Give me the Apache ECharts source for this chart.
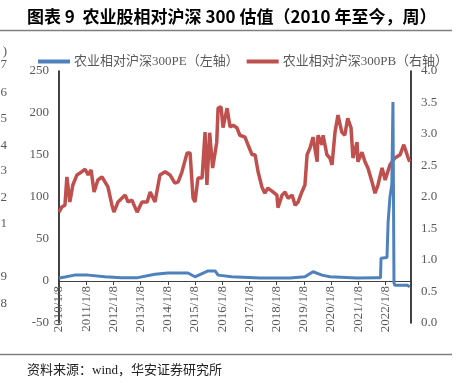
<!DOCTYPE html>
<html><head><meta charset="utf-8">
<script src="https://cdn.jsdelivr.net/npm/echarts@6/dist/echarts.min.js"></script>
<style>html,body{margin:0;padding:0;background:#fff}#c{width:466px;height:383px}</style>
</head><body><div id="c"></div>
<script>
const titleText = '图表 9  农业股相对沪深 300 估值（2010 年至今，周）';
const sourceText = '资料来源：wind，华安证券研究所';
const seriesNames = ['农业相对沪深300PE（左轴）', '农业相对沪深300PB（右轴）'];
const xStartYear = 2010;

const peDates = ['2010-01-08','2010-03-29','2010-08-04','2011-02-03','2011-09-17','2012-04-24','2012-11-30','2013-07-20','2014-01-08','2014-10-05','2015-01-08','2015-07-02','2015-10-05','2015-11-14','2016-05-16','2017-05-30','2018-07-06','2019-01-23','2019-05-12','2019-06-06','2019-09-09','2019-12-24','2020-12-24','2021-09-16','2021-11-03','2021-11-10','2022-01-29','2022-02-13','2022-03-10','2022-04-04','2022-04-19','2022-05-03','2022-05-14','2022-10-29','2022-12-01'];
const peValues = [3.5,4.8,7,7,5,4,4,8,9.5,9.5,5,12,12,7,5,3.5,3.5,5,11,12,7,5,3.5,4,4,27,28,70,100,115,213,-2,-5,-5,-7];

const pbDates = ['2010-01-08','2010-02-14','2010-03-29','2010-04-24','2010-06-03','2010-07-13','2010-09-06','2010-10-16','2010-12-24','2011-02-03','2011-03-15','2011-04-24','2011-06-14','2011-08-08','2011-09-17','2011-10-27','2011-12-20','2012-01-15','2012-03-10','2012-06-14','2012-07-24','2012-09-13','2012-11-22','2013-01-26','2013-04-06','2013-05-16','2013-06-10','2013-07-20','2013-09-24','2013-12-03','2014-02-06','2014-04-13','2014-05-27','2014-07-17','2014-09-24','2014-11-03','2014-12-13','2015-01-08','2015-02-17','2015-04-13','2015-05-23','2015-06-17','2015-07-24','2015-09-02','2015-10-27','2015-11-14','2015-12-24','2016-01-19','2016-03-14','2016-04-23','2016-06-02','2016-07-23','2016-09-01','2016-11-09','2016-12-19','2017-02-13','2017-03-25','2017-05-04','2017-06-24','2017-08-03','2017-09-12','2017-11-20','2018-01-12','2018-01-26','2018-03-22','2018-05-01','2018-06-10','2018-08-04','2018-09-13','2018-10-23','2018-12-13','2019-01-23','2019-02-21','2019-04-02','2019-05-12','2019-07-06','2019-07-17','2019-09-10','2019-09-24','2019-11-14','2019-12-24','2020-01-22','2020-03-02','2020-04-11','2020-06-01','2020-07-11','2020-08-20','2020-10-03','2020-10-29','2020-12-23','2021-01-03','2021-02-27','2021-04-08','2021-05-18','2021-07-12','2021-08-21','2021-09-30','2021-11-24','2022-01-04','2022-03-10','2022-05-15','2022-07-23','2022-09-12','2022-11-06','2022-12-01'];
const pbValues = [1.76,1.84,1.87,2.32,1.92,2.19,2.35,2.38,2.44,2.35,2.43,2.08,2.27,2.32,2.24,2.16,1.87,1.76,1.92,2.03,1.92,1.95,1.76,1.92,1.92,2.08,2.06,1.92,2.35,2.40,2.35,2.22,2.24,2.40,2.70,2.70,1.98,1.92,2.30,2.30,3.03,2.19,3.02,2.46,2.87,3.41,3.43,3.10,3.41,3.11,3.14,3.10,2.98,2.95,2.83,2.67,2.67,2.40,2.16,2.06,2.14,2.08,2.03,1.83,2.03,2.08,1.98,2.03,1.87,1.92,2.08,2.19,2.67,2.78,2.95,2.56,2.98,2.83,2.98,2.67,2.62,2.51,3.03,3.30,3.03,2.98,3.25,3.10,2.62,2.87,2.56,2.71,2.56,2.46,2.24,2.06,2.19,2.46,2.27,2.51,2.62,2.67,2.83,2.63,2.56];

const leftAxis = {min: -50, max: 250, interval: 50};
const rightAxis = {min: 0, max: 4, interval: 0.5};
const xMaxYears = 12.94;
const edgeDigits = [[')',52],['7',65],['6',93],['5',119],['4',146],['3',171],['2',198],['1',224],['9',277],['8',304]];

const t0 = Date.parse('2010-01-08');
function yrs(d){ return (Date.parse(d) - t0) / (365.25 * 864e5); }
const pePairs = peDates.map((d,i)=>[yrs(d), peValues[i]]);
const pbPairs = pbDates.map((d,i)=>[yrs(d), pbValues[i]]);

const SERIF = '"Liberation Serif","Times New Roman","Noto Sans CJK SC",serif';
const GRAY = '#595959';
const gridTop = 71, gridBottom = 60, gridH = 383 - gridTop - gridBottom;
// distance of the left axis' zero from the grid bottom, from the axis range
const zeroOffset = -gridH * (0 - leftAxis.min) / (leftAxis.max - leftAxis.min);

const chart = echarts.init(document.getElementById('c'), null, {renderer:'canvas'});
const graphics = [
  {type:'text', left:27, top:8, style:{text:titleText, font:'bold 17px "Noto Sans CJK SC", sans-serif', fill:'#000'}},
  {type:'line', shape:{x1:0,y1:30.5,x2:452,y2:30.5}, style:{stroke:'#7f7f7f', lineWidth:1.5}},
  {type:'line', shape:{x1:0,y1:354.5,x2:452,y2:354.5}, style:{stroke:'#7f7f7f', lineWidth:1.5}},
  {type:'text', left:27, top:364, style:{text:sourceText, font:'13px '+SERIF, fill:'#222'}}
];
edgeDigits.forEach(([t,y])=>graphics.push({type:'text', x:7, y:y, style:{text:t, font:'13px '+SERIF, fill:GRAY, align:'right', verticalAlign:'middle'}}));

chart.setOption({
  animation:false,
  backgroundColor:'#fff',
  graphic: graphics,
  legend:{
    left:33, top:50, itemWidth:32, itemHeight:4, itemGap:8, icon:'rect',
    textStyle:{fontFamily:SERIF, fontSize:13, color:GRAY, padding:[0,0,0,-1]},
    data: seriesNames
  },
  grid:{left:59, right:55, top:gridTop, bottom:gridBottom},
  xAxis:{
    type:'value', min:0, max:xMaxYears, interval:1, position:'bottom', offset:zeroOffset,
    axisLine:{onZero:false, lineStyle:{color:'#404040', width:1}},
    axisTick:{show:true, length:4, lineStyle:{color:'#404040'}},
    axisLabel:{rotate:90, margin:5, fontFamily:SERIF, fontSize:13, color:GRAY, showMaxLabel:false,
      formatter:v=> Math.abs(v-Math.round(v))<1e-6 ? (xStartYear+Math.round(v))+'/1/8' : ''},
    splitLine:{show:false}
  },
  yAxis:[
    {type:'value', position:'left', min:leftAxis.min, max:leftAxis.max, interval:leftAxis.interval,
      axisLine:{show:true, onZero:false, lineStyle:{color:'#000', width:1.5}}, axisTick:{show:false},
      axisLabel:{margin:10, fontFamily:SERIF, fontSize:13, color:GRAY}, splitLine:{show:false}},
    {type:'value', position:'right', min:rightAxis.min, max:rightAxis.max, interval:rightAxis.interval,
      axisLine:{show:true, onZero:false, lineStyle:{color:'#000', width:1.5}}, axisTick:{show:false},
      axisLabel:{margin:10, fontFamily:SERIF, fontSize:13, color:GRAY, formatter:v=>v.toFixed(1)}, splitLine:{show:false}}
  ],
  series:[
    {name:seriesNames[0], type:'line', yAxisIndex:0, data:pePairs, showSymbol:false, z:4,
      lineStyle:{color:'#4f81bd', width:3}, itemStyle:{color:'#4f81bd'}},
    {name:seriesNames[1], type:'line', yAxisIndex:1, data:pbPairs, showSymbol:false, z:3,
      lineStyle:{color:'#c0504d', width:3.5}, itemStyle:{color:'#c0504d'}}
  ]
});
</script></body></html>
